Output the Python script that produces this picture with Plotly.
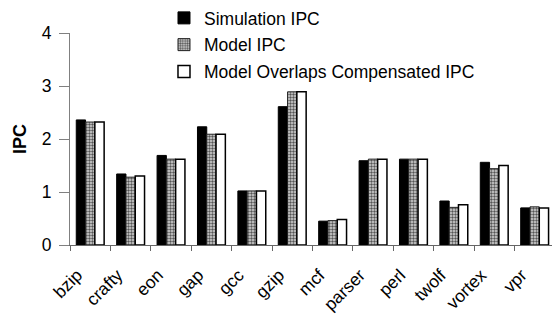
import plotly.graph_objects as go

categories = ["bzip", "crafty", "eon", "gap", "gcc", "gzip", "mcf", "parser", "perl", "twolf", "vortex", "vpr"]
sim_ipc = [2.36, 1.34, 1.69, 2.23, 1.02, 2.61, 0.45, 1.59, 1.62, 0.83, 1.56, 0.70]
model_ipc = [2.32, 1.28, 1.62, 2.09, 1.02, 2.89, 0.46, 1.62, 1.62, 0.71, 1.44, 0.72]
comp_ipc = [2.32, 1.30, 1.62, 2.09, 1.02, 2.89, 0.48, 1.62, 1.62, 0.76, 1.50, 0.70]
y_ticks = [0, 1, 2, 3, 4]

fig = go.Figure()
fig.add_trace(go.Bar(x=categories, y=sim_ipc, name="Simulation IPC",
                     marker=dict(color="black", line=dict(color="black", width=1)),
                     legendgroup="a"))
fig.add_trace(go.Bar(x=categories, y=model_ipc, name="Model IPC",
                     marker=dict(color="#9a9a9a", line=dict(color="#222222", width=1),
                                 pattern=dict(shape=".", size=3, solidity=0.5,
                                              fgcolor="#555555", bgcolor="#d8d8d8", fillmode="replace")),
                     legendgroup="b"))
fig.add_trace(go.Bar(x=categories, y=comp_ipc, name="Model Overlaps Compensated IPC",
                     marker=dict(color="white", line=dict(color="black", width=1.5)),
                     legendgroup="c"))

fig.update_layout(
    width=552, height=324,
    margin=dict(l=70, r=0, t=33, b=79, autoexpand=False),
    paper_bgcolor="white", plot_bgcolor="white",
    font=dict(family="Liberation Sans, Arial, sans-serif", color="black"),
    barmode="group", bargap=0.31, bargroupgap=0,
    legend=dict(x=0.195, xref="paper", y=1.0, yref="container", xanchor="left", yanchor="top",
                font=dict(size=17.5), tracegroupgap=1, bgcolor="rgba(0,0,0,0)",
                itemwidth=30),
    showlegend=True,
)
fig.update_xaxes(showline=True, linecolor="#666666", linewidth=1, ticks="outside",
                 tickson="boundaries", ticklen=5, tickcolor="#666666", automargin=False,
                 tickangle=-45, tickfont=dict(size=17.5), range=[-0.5, 11.43],
                 ticklabelstandoff=12, ticklabelshift=-13)
fig.update_yaxes(range=[0, 4], tickvals=y_ticks, showline=True, linecolor="#808080",
                 linewidth=1, ticks="outside", ticklen=10, tickcolor="#808080",
                 showgrid=False, zeroline=False, tickfont=dict(size=17.5), automargin=False,
                 ticklabelstandoff=4,
                 title=dict(text="<b>IPC</b>", font=dict(size=18), standoff=10))

fig.write_html("out.html", config={"displayModeBar": False},
               post_script="document.body.style.margin='0';")
